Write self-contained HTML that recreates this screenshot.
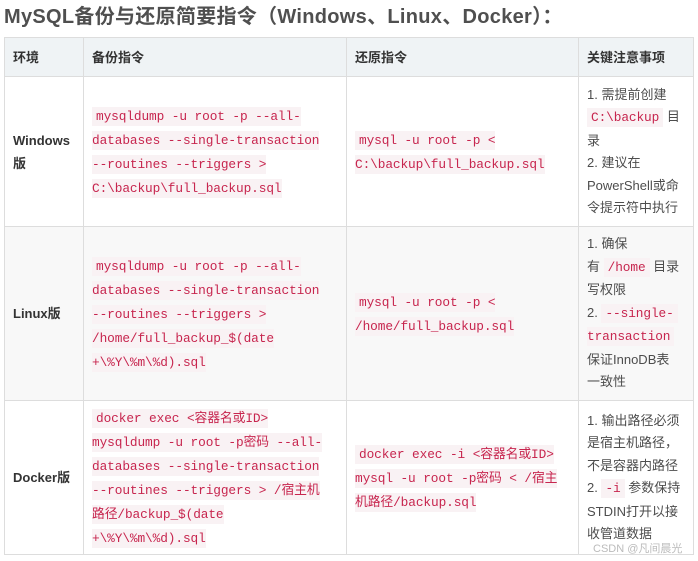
<!DOCTYPE html><html><head><meta charset="utf-8"><style>
body{margin:0;width:698px;height:561px;background:#fff;position:relative;overflow:hidden;font-family:"Liberation Sans","Noto Sans CJK SC",sans-serif;color:#4d4d4d;font-size:13px}
.t{position:absolute;left:4px;top:0;font-size:20px;letter-spacing:0.3px;font-weight:bold;color:#4f4f4f;line-height:34px;white-space:nowrap}
.c{position:absolute;box-sizing:border-box;border:1px solid #ddd;display:flex;align-items:center;padding:0 8px;line-height:23px}
.h{background:#eff3f5;font-weight:bold;color:#333}
.g{background:#f8f8f8}
code{font-family:"Liberation Mono","Noto Sans CJK SC",monospace;color:#c7254e;background:#f9f2f4;font-size:12.8px;padding:2px 4px;letter-spacing:-0.1px}
.k code{padding:2px 0}
.k code:first-child{padding-left:4px}
.b{font-weight:bold;color:#333}
</style></head><body>
<div class="t">MySQL备份与还原简要指令（Windows、Linux、Docker）：</div>
<div class="c h" style="left:4px;top:37px;width:80px;height:40px">环境</div>
<div class="c h" style="left:83px;top:37px;width:264px;height:40px">备份指令</div>
<div class="c h" style="left:346px;top:37px;width:233px;height:40px">还原指令</div>
<div class="c h" style="left:578px;top:37px;width:116px;height:40px">关键注意事项</div>

<div class="c b" style="left:4px;top:76px;width:80px;height:151px">Windows<br>版</div>
<div class="c" style="left:83px;top:76px;width:264px;height:151px"><div class="k" style="white-space:nowrap"><code>mysqldump -u root -p --all-</code><br><code>databases --single-transaction</code><br><code>--routines --triggers &gt;</code><br><code>C:\backup\full_backup.sql</code></div></div>
<div class="c" style="left:346px;top:76px;width:233px;height:151px"><div class="k" style="white-space:nowrap"><code>mysql -u root -p &lt;</code><br><code>C:\backup\full_backup.sql</code></div></div>
<div class="c" style="left:578px;top:76px;width:116px;height:151px"><div style="line-height:22.5px;white-space:nowrap">1. 需提前创建<br><code>C:\backup</code> 目<br>录<br>2. 建议在<br>PowerShell或命<br>令提示符中执行</div></div>

<div class="c b g" style="left:4px;top:226px;width:80px;height:175px">Linux版</div>
<div class="c g" style="left:83px;top:226px;width:264px;height:175px"><div class="k" style="white-space:nowrap"><code>mysqldump -u root -p --all-</code><br><code>databases --single-transaction</code><br><code>--routines --triggers &gt;</code><br><code>/home/full_backup_$(date</code><br><code>+\%Y\%m\%d).sql</code></div></div>
<div class="c g" style="left:346px;top:226px;width:233px;height:175px"><div class="k" style="white-space:nowrap"><code>mysql -u root -p &lt;</code><br><code>/home/full_backup.sql</code></div></div>
<div class="c g" style="left:578px;top:226px;width:116px;height:175px"><div style="line-height:22.5px;white-space:nowrap">1. 确保<br>有 <code>/home</code> 目录<br>写权限<br>2. <code>--single-</code><br><code style="padding-left:0">transaction</code><br>保证InnoDB表<br>一致性</div></div>

<div class="c b" style="left:4px;top:400px;width:80px;height:155px">Docker版</div>
<div class="c" style="left:83px;top:400px;width:264px;height:155px"><div class="k" style="white-space:nowrap"><code>docker exec &lt;容器名或ID&gt;</code><br><code>mysqldump -u root -p密码 --all-</code><br><code>databases --single-transaction</code><br><code>--routines --triggers &gt; /宿主机</code><br><code>路径/backup_$(date</code><br><code>+\%Y\%m\%d).sql</code></div></div>
<div class="c" style="left:346px;top:400px;width:233px;height:155px"><div class="k" style="white-space:nowrap"><code>docker exec -i &lt;容器名或ID&gt;</code><br><code>mysql -u root -p密码 &lt; /宿主</code><br><code>机路径/backup.sql</code></div></div>
<div class="c" style="left:578px;top:400px;width:116px;height:155px"><div style="line-height:22.5px;white-space:nowrap">1. 输出路径必须<br>是宿主机路径，<br>不是容器内路径<br>2. <code>-i</code> 参数保持<br>STDIN打开以接<br>收管道数据</div></div>
<div style="position:absolute;left:593px;top:540px;font-size:11px;color:#bbb">CSDN @凡间晨光</div>
</body></html>
